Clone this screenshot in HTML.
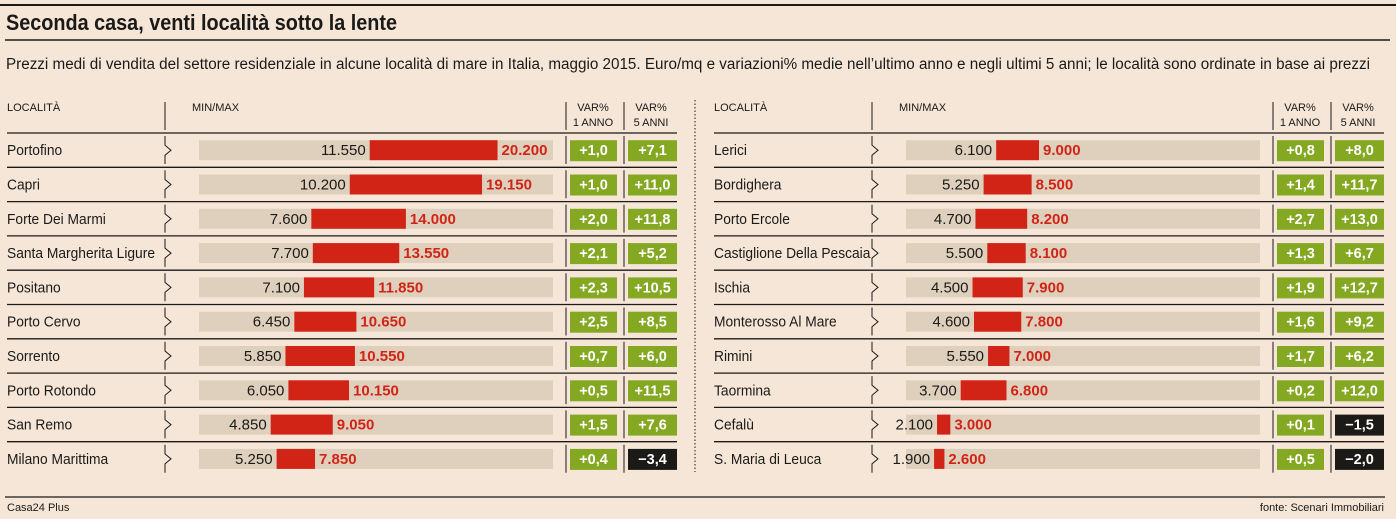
<!DOCTYPE html>
<html><head><meta charset="utf-8">
<style>
html,body{margin:0;padding:0;background:#f5e6d8;}
svg{display:block;font-family:"Liberation Sans Narrow","Liberation Sans",sans-serif;}
</style></head>
<body>
<svg id="s" width="1396" height="519" viewBox="0 0 1396 519" xmlns="http://www.w3.org/2000/svg">
<rect width="1396" height="519" fill="#f5e6d8"/>
<line x1="0" y1="5" x2="1396" y2="5" stroke="#1b1a17" stroke-width="2"/>
<text x="6" y="30" font-size="22" font-weight="bold" fill="#1b1a17" textLength="391" lengthAdjust="spacingAndGlyphs">Seconda casa, venti località sotto la lente</text>
<line x1="5" y1="40" x2="1390" y2="40" stroke="#1b1a17" stroke-width="1.5"/>
<text x="6" y="69" font-size="15.5" fill="#1b1a17" textLength="1364" lengthAdjust="spacingAndGlyphs">Prezzi medi di vendita del settore residenziale in alcune località di mare in Italia,  maggio 2015.  Euro/mq e variazioni% medie nell’ultimo anno e negli ultimi 5 anni; le località sono ordinate in base ai prezzi</text>
<line x1="695" y1="100" x2="695" y2="472" stroke="#1b1a17" stroke-width="1" stroke-dasharray="1.5,2"/>
<line x1="5" y1="497" x2="1385" y2="497" stroke="#1b1a17" stroke-width="1.2"/>
<text x="7" y="511" font-size="11" fill="#1b1a17">Casa24 Plus</text>
<text x="1384" y="511" font-size="11" fill="#1b1a17" text-anchor="end">fonte:  Scenari Immobiliari</text>
<g id="g"></g>
</svg>
<script>
var L=[["Portofino",11550,20200,"+1,0","+7,1"],["Capri",10200,19150,"+1,0","+11,0"],["Forte Dei Marmi",7600,14000,"+2,0","+11,8"],["Santa Margherita Ligure",7700,13550,"+2,1","+5,2"],["Positano",7100,11850,"+2,3","+10,5"],["Porto Cervo",6450,10650,"+2,5","+8,5"],["Sorrento",5850,10550,"+0,7","+6,0"],["Porto Rotondo",6050,10150,"+0,5","+11,5"],["San Remo",4850,9050,"+1,5","+7,6"],["Milano Marittima",5250,7850,"+0,4","\u22123,4"]];
var R=[["Lerici",6100,9000,"+0,8","+8,0"],["Bordighera",5250,8500,"+1,4","+11,7"],["Porto Ercole",4700,8200,"+2,7","+13,0"],["Castiglione Della Pescaia",5500,8100,"+1,3","+6,7"],["Ischia",4500,7900,"+1,9","+12,7"],["Monterosso Al Mare",4600,7800,"+1,6","+9,2"],["Rimini",5550,7000,"+1,7","+6,2"],["Taormina",3700,6800,"+0,2","+12,0"],["Cefalù",2100,3000,"+0,1","\u22121,5"],["S. Maria di Leuca",1900,2600,"+0,5","\u22122,0"]];
function fmt(v){var s=String(v);return s.length>3?s.slice(0,s.length-3)+"."+s.slice(-3):s;}
var h="";var D="#1b1a17";
function panel(data,o){
 h+='<text x="'+(7+o)+'" y="111" font-size="11" fill="'+D+'">LOCALITÀ</text>';
 h+='<text x="'+(192+o)+'" y="111" font-size="11" fill="'+D+'">MIN/MAX</text>';
 h+='<text x="'+(593+o)+'" y="111" font-size="11" fill="'+D+'" text-anchor="middle">VAR%</text>';
 h+='<text x="'+(593+o)+'" y="126" font-size="11" fill="'+D+'" text-anchor="middle">1 ANNO</text>';
 h+='<text x="'+(651+o)+'" y="111" font-size="11" fill="'+D+'" text-anchor="middle">VAR%</text>';
 h+='<text x="'+(651+o)+'" y="126" font-size="11" fill="'+D+'" text-anchor="middle">5 ANNI</text>';
 [165,566,624].forEach(function(x){h+='<line x1="'+(x+o)+'" y1="102" x2="'+(x+o)+'" y2="130" stroke="'+D+'" stroke-width="1"/>';});
 for(var k=0;k<10;k++){
  var y=133+34.3*k,c=y+17.2,d=data[k];
  h+='<line x1="'+(7+o)+'" y1="'+y+'" x2="'+(677+o)+'" y2="'+y+'" stroke="'+D+'" stroke-width="1.3"/>';
  h+='<text transform="translate('+(7+o)+','+(c+5)+') scale(0.92,1)" font-size="15" fill="'+D+'">'+d[0]+'</text>';
  h+='<polyline points="'+(165+o)+','+(y+3)+' '+(165+o)+','+(c-5)+' '+(171+o)+','+c+' '+(165+o)+','+(c+5)+' '+(165+o)+','+(y+31)+'" fill="none" stroke="'+D+'" stroke-width="1"/>';
  [566,624].forEach(function(x){h+='<line x1="'+(x+o)+'" y1="'+(y+3)+'" x2="'+(x+o)+'" y2="'+(y+31)+'" stroke="'+D+'" stroke-width="1"/>';});
  h+='<rect x="'+(199+o)+'" y="'+(c-10)+'" width="354" height="20" fill="#dfd0bd"/>';
  var a=199+o+d[1]*0.01478,b=199+o+d[2]*0.01478;
  h+='<rect x="'+a+'" y="'+(c-10)+'" width="'+(b-a)+'" height="20" fill="#d22416"/>';
  h+='<text x="'+(a-4)+'" y="'+(c+5)+'" font-size="15" fill="'+D+'" text-anchor="end">'+fmt(d[1])+'</text>';
  h+='<text x="'+(b+4)+'" y="'+(c+5)+'" font-size="15" font-weight="bold" fill="#d22416">'+fmt(d[2])+'</text>';
  h+='<rect x="'+(570+o)+'" y="'+(c-10)+'" width="47" height="21" fill="#84a821"/>';
  h+='<text x="'+(593.5+o)+'" y="'+(c+5)+'" font-size="14.5" font-weight="bold" fill="#fff" text-anchor="middle">'+d[3]+'</text>';
  var neg=d[4].charAt(0)!="+";
  h+='<rect x="'+(628+o)+'" y="'+(c-10)+'" width="49" height="21" fill="'+(neg?"#1b1a17":"#84a821")+'"/>';
  h+='<text x="'+(652.5+o)+'" y="'+(c+5)+'" font-size="14.5" font-weight="bold" fill="#fff" text-anchor="middle">'+d[4]+'</text>';
 }
}
panel(L,0);panel(R,707);
document.getElementById("g").innerHTML=h;
</script>
</body></html>
